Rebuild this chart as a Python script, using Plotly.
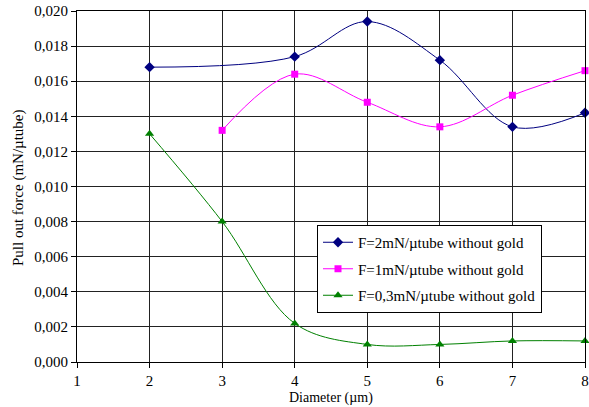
import plotly.graph_objects as go

diam_blue = [2, 4, 5, 6, 7, 8]
force_blue = [0.0168, 0.0174, 0.0194, 0.0172, 0.0134, 0.0142]
diam_pink = [3, 4, 5, 6, 7, 8]
force_pink = [0.0132, 0.0164, 0.0148, 0.0134, 0.0152, 0.0166]
diam_green = [2, 3, 4, 5, 6, 7, 8]
force_green = [0.0130, 0.0080, 0.0022, 0.0010, 0.0010, 0.0012, 0.0012]
y_ticks = [0.000, 0.002, 0.004, 0.006, 0.008, 0.010, 0.012, 0.014, 0.016, 0.018, 0.020]
y_tick_labels = ["0,000", "0,002", "0,004", "0,006", "0,008", "0,010", "0,012", "0,014", "0,016", "0,018", "0,020"]

names = ["F=2mN/µtube without gold", "F=1mN/µtube without gold", "F=0,3mN/µtube without gold"]
FONT = "Liberation Serif"

fig = go.Figure()
fig.add_trace(go.Scatter(x=diam_blue, y=force_blue, name=names[0], mode="lines+markers", legendgroup="a",
                         line=dict(color="#000080", width=1, shape="spline", smoothing=1),
                         marker=dict(symbol="diamond", size=8, color="#000080"), cliponaxis=False))
fig.add_trace(go.Scatter(x=diam_pink, y=force_pink, name=names[1], mode="lines+markers", legendgroup="b",
                         line=dict(color="#FF00FF", width=1, shape="spline", smoothing=1),
                         marker=dict(symbol="square", size=7, color="#FF00FF"), cliponaxis=False))
fig.add_trace(go.Scatter(x=diam_green, y=force_green, name=names[2], mode="lines+markers", legendgroup="c",
                         line=dict(color="#008000", width=1, shape="spline", smoothing=1),
                         marker=dict(symbol="triangle-up", size=8, color="#008000"), cliponaxis=False))

plot_w = 589 - 77 - 4
plot_h = 407 - 11 - 45

fig.update_layout(
    template="none",
    width=589, height=407,
    margin=dict(l=77, r=4, t=11, b=45),
    paper_bgcolor="white", plot_bgcolor="white",
    showlegend=True,
    legend=dict(x=(317 - 77) / plot_w, y=(362 - 225) / plot_h, xanchor="left", yanchor="top",
                bgcolor="white", bordercolor="black", borderwidth=1,
                font=dict(family=FONT, size=15, color="black"), tracegroupgap=4),
    xaxis=dict(range=[1, 8], dtick=1, tick0=1, showgrid=True, gridcolor="#222", gridwidth=1,
               showline=True, linecolor="black", linewidth=1, mirror=True,
               ticks="outside", ticklen=5, tickcolor="black", zeroline=False,
               tickfont=dict(family=FONT, size=15, color="black")),
    yaxis=dict(range=[0, 0.020], tickmode="array", tickvals=y_ticks, ticktext=y_tick_labels,
               showgrid=True, gridcolor="#222", gridwidth=1,
               showline=True, linecolor="black", linewidth=1, mirror=True,
               ticks="outside", ticklen=5, tickcolor="black", zeroline=False,
               tickfont=dict(family=FONT, size=15, color="black")),
    annotations=[
        dict(text="Diameter (µm)", x=0.5, xref="paper", y=(362 - 398) / plot_h, yref="paper",
             yanchor="middle", showarrow=False, font=dict(family=FONT, size=14, color="black")),
        dict(text="Pull out force (mN/µtube)", textangle=-90, x=(18 - 77) / plot_w, xanchor="center",
             y=(362 - 188) / plot_h, xref="paper", yref="paper",
             showarrow=False, font=dict(family=FONT, size=15, color="black")),
    ],
)

fig.write_html("out.html")
